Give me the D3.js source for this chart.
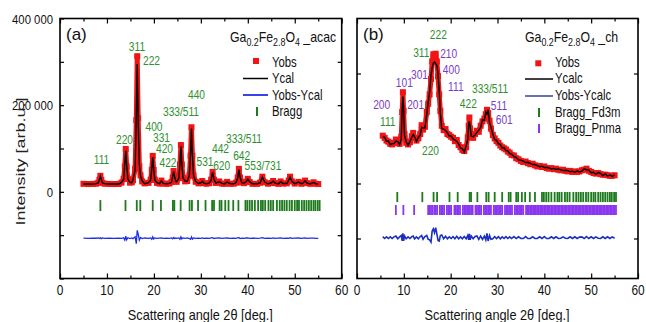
<!DOCTYPE html>
<html><head><meta charset="utf-8">
<script src="https://cdn.jsdelivr.net/npm/d3@7"></script>
<style>
body{margin:0;background:#fff}
svg{display:block}
text{font-family:"Liberation Sans",Arial,Helvetica,sans-serif}
</style>
</head><body>
<svg id="c" width="646" height="322"></svg>
<script>
// ---------------- DATA ----------------
// Panel (a): Ga0.2Fe2.8O4_acac
const angleA = [5.0,6.0,7.0,7.7,8.15,8.4,8.6,8.8,9.05,9.5,
  10.5,11.5,12.5,13.1,13.55,13.8,14.0,14.2,14.45,14.9,
  15.3,15.55,16.0,16.25,16.45,16.65,16.9,17.15,17.5,18.0,
  18.85,19.3,19.55,19.75,19.95,20.2,20.65,21.2,21.6,22.0,
  22.7,23.3,23.75,24.0,24.2,24.4,24.65,24.85,25.3,25.55,
  25.75,25.95,26.2,26.65,27.1,27.55,27.8,28.0,28.2,28.45,
  28.9,29.5,30.0,30.3,30.6,31.2,31.8,32.2,32.5,32.8,
  33.2,33.9,34.5,35.0,35.6,36.2,37.0,37.5,37.85,38.1,
  38.35,38.7,39.2,39.6,40.0,40.4,41.0,42.0,42.6,43.1,
  43.6,44.3,45.0,45.4,45.8,46.5,47.0,47.5,48.3,48.7,
  49.0,49.4,50.0,50.8,51.4,51.8,52.2,52.6,53.3,54.0,
  54.5,55.0];
const yobsA = [18500,18000,18300,18760,20850,27500,37000,27500,20850,18700,
  18200,18000,18300,21240,30150,58500,99000,58500,30150,21240,
  22000,26850,53400,165500,313000,170000,59400,38000,24000,19500,
  20600,27750,50500,83000,50500,27750,20600,19000,26000,19000,
  18500,19200,22500,33000,48000,34800,25200,23100,31500,63000,
  108000,63000,32800,24200,25000,37650,83500,149000,83500,37650,
  23240,19500,20500,25000,20000,18800,20000,28000,46000,28000,
  20500,24000,19000,18500,23000,18500,18800,21000,33000,53000,
  33000,21500,20000,23500,30000,22500,18500,18500,21000,35000,
  22000,18800,20500,25000,20000,18500,24000,19000,19500,26000,
  35000,24000,19000,23000,18500,21000,26000,20000,18500,22000,
  18500,18000];
const ycalA = [18200,18300,17900,18900,20300,28200,36000,28400,20300,19000,
  18000,18300,18000,21800,29000,63000,94500,62000,29000,22000,
  21200,28000,50000,178000,295000,160000,64000,36500,25000,19000,
  21200,27000,53000,80000,52000,27000,21000,18700,25200,19400,
  18300,19500,22000,34500,46500,35500,24800,23500,30800,65500,
  105000,64500,32000,24600,24500,38500,86000,146000,85500,37000,
  23800,19200,20900,24300,20400,18500,20500,27300,44800,28600,
  20200,23300,19400,18300,22500,18900,18500,21500,32000,51500,
  34000,21200,20400,23000,29200,23000,18300,18800,20600,33800,
  22600,18500,20900,24400,20300,18300,23400,19300,19200,26500,
  34000,24500,18800,22500,18800,20700,25400,20300,18300,21600,
  18700,18200];

// Panel (b): Ga0.2Fe2.8O4_ch
const angleB = [5.5,5.9,6.3,6.7,7.1,7.5,7.9,8.3,8.7,9.1,
  9.45,9.65,9.8,9.95,10.15,10.5,10.9,11.3,11.7,12.0,
  12.3,12.7,13.1,13.5,13.8,14.1,14.5,14.9,15.2,15.5,
  15.8,16.05,16.3,16.55,16.8,17.05,17.3,17.55,17.8,18.1,
  18.5,18.9,19.3,19.7,20.1,20.5,20.9,21.3,21.7,22.1,
  22.5,22.9,23.3,23.65,23.85,24.0,24.15,24.4,24.8,25.2,
  25.6,26.0,26.4,26.8,27.2,27.5,27.75,28.0,28.3,28.6,
  29.0,29.4,29.8,30.2,30.6,31.0,31.4,31.8,32.2,32.6,
  33.0,33.5,34.0,34.5,35.0,35.5,36.0,36.5,37.0,37.5,
  38.0,38.5,39.0,39.5,40.0,40.5,41.0,41.5,42.0,42.5,
  43.0,43.5,44.0,44.5,45.0,45.5,46.0,46.5,47.0,47.5,
  48.0,48.5,49.0,49.5,50.0,50.5,51.0,51.5,52.0,52.5,
  53.0,53.5,54.0,54.5,55.0];
const yobsB = [187000,183000,178000,176000,172000,171000,174000,180000,174000,172000,
  185000,230000,266000,232000,190000,174000,171000,175000,186000,192000,
  183000,178000,182000,190000,206000,198000,203000,230000,245000,262000,
  290000,322000,335000,330000,336000,322000,295000,262000,232000,205000,
  197000,199000,190000,188000,185000,183000,177000,179000,170000,166000,
  161000,159000,166000,184000,205000,220000,200000,189000,183000,190000,
  196000,194000,205000,213000,218000,226000,234000,228000,214000,200000,
  188000,182000,177000,174000,169000,166000,164000,162000,158000,156000,
  152000,151000,146000,144000,141000,139000,140000,137000,135000,136000,
  133000,131000,132000,130000,131000,128000,127000,128000,126000,127000,
  125000,124000,125000,123000,122000,123000,121000,122000,121000,122000,
  124000,125000,127000,123000,121000,119000,118000,119000,117000,116000,
  116000,115000,114000,114000,115000];
const ycalB = [185000,184500,176500,177500,170500,172500,172500,177000,176000,170500,
  181000,236000,258000,238000,187000,176000,169500,176500,184000,189000,
  185000,176500,184000,188000,202000,201000,201000,226000,248000,266000,
  298000,310000,319000,321000,318000,315000,300000,268000,228000,200000,
  199000,196500,192000,186500,186500,181000,179000,176500,172000,164500,
  163000,157000,168000,180000,209000,213000,204000,186000,185000,188000,
  193000,197000,202000,216000,215000,230000,226000,234000,210000,203000,
  190000,180000,178500,172000,171000,164500,165500,160000,159500,154500,
  153500,149000,147500,142500,142500,140500,138000,138500,136500,134500,
  134500,132500,130500,131500,129000,129500,128500,126500,127500,125500,
  126500,125000,123500,124000,123500,121500,122500,120500,122500,121000,
  122500,126500,125000,124500,119500,120500,116500,120000,118500,114500,
  117500,113500,115500,112500,116000];

// Bragg reflection positions (2theta, deg)
const braggFd3m = [8.6,13.95,16.35,17.1,19.75,21.5,24.05,24.35,25.7,27.6,28.1,29.4,31.0,32.4,32.8,
  34.0,34.4,35.2,35.9,36.9,38.0,39.5,39.9,40.4,40.9,41.5,42.2,42.8,43.2,43.7,44.4,44.9,45.4,
  46.2,46.8,47.3,47.8,48.3,48.9,49.4,50.0,50.5,50.9,51.5,52.0,52.5,53.0,53.5,54.0,54.4,54.9,55.3];
const braggPnma = [8.3,9.9,12.2,15.2,15.5,15.8,16.1,16.5,16.8,17.1,17.7,18.0,18.3,18.6,19.2,19.5,19.8,20.1,
  20.8,21.1,21.4,21.7,22.0,22.6,22.9,23.2,23.5,23.8,24.1,24.4,24.7,25.3,25.6,25.9,26.2,26.5,
  27.1,27.4,27.7,28.0,28.3,28.6,29.2,29.5,29.8,30.1,30.4,30.7,31.0,31.6,31.9,32.2,32.5,32.8,33.1,
  33.7,34.0,34.3,34.6,34.9,35.2,35.5,36.1,36.4,36.7,37.0,37.3,37.6,37.9,38.2,38.5,38.8,39.1,
  39.4,39.7,40.0,40.3,40.6,40.9,41.2,41.5,41.8,42.1,42.4,42.7,43.0,43.3,43.6,43.9,44.2,44.5,
  44.8,45.1,45.4,45.7,46.0,46.3,46.6,46.9,47.2,47.5,47.8,48.1,48.4,48.7,49.0,49.3,49.6,49.9,
  50.2,50.5,50.8,51.1,51.4,51.7,52.0,52.3,52.6,52.9,53.2,53.5,53.8,54.1,54.4,54.7,55.0,55.3];

// Peak annotations (hkl text, 2theta, intensity anchor)
const peakLabA = ["311","222","440","333/511","400","331","220","420","111","422","333/511","442","642","531","620","553/731"];
const peakAngA = [16.4,19.49,29.07,25.77,20.02,21.62,13.74,22.26,8.84,23.0,39.19,34.19,38.70,30.88,34.44,43.24];
const peakIntA = [326100,292600,213500,174900,141500,114500,110300,88800,64200,56800,112600,89500,73400,59500,50300,50300];

const peakLabB = ["222","311","210","301","400","101","111","333/511","200","201","422","511","111","601","220"];
const peakPhaseB = ["F","F","P","P","P","P","P","F","P","P","F","P","F","P","F"];
const peakAngB = [17.36,13.73,19.58,13.35,20.14,10.10,21.10,28.40,5.27,12.53,23.77,30.32,6.56,31.45,15.69];
const peakIntB = [362200,330600,328200,290000,299100,274900,268700,265100,234900,234900,236700,233600,204500,208200,151300];

// Axes
const xTickVals = [0,10,20,30,40,50,60];
const xMinorVals = [5,15,25,35,45,55];
const yTickValsA = [400000,200000,0];
const yTickLabA = ["400 000","200 000","0"];
const yAllTicksA = [300000,200000,100000,0,-100000];
const yTicksB = [0,100000,200000,300000];

const legendA = ["Yobs","Ycal","Yobs-Ycal","Bragg"];
const legendB = ["Yobs","Ycalc","Yobs-Ycalc","Bragg_Fd3m","Bragg_Pnma"];

// ---------------- DRAWING ----------------
const RED = "#f01414", GREEN_T = "#1d7a1d", GREEN_L = "#2e8f2e", PURPLE_L = "#7a3cc8", PURPLE_T = "#8a36f0";
const svg = d3.select("#c");

function txt(g, x, y, s, o = {}) {
  const size = o.size || 13, sx = o.sx || 1, anchor = o.anchor || "start";
  return g.append("text")
    .attr("transform", `translate(${x},${y}) scale(${sx},1)`)
    .attr("text-anchor", anchor)
    .attr("font-size", size)
    .attr("fill", o.fill || "#000")
    .text(s);
}

function chem(g, x, y, suffix, size, sx) {
  const t = g.append("text").attr("transform", `translate(${x},${y}) scale(${sx},1)`).attr("font-size", size).attr("fill", "#111");
  const parts = [["Ga",0],["0.2",1],["Fe",0],["2.8",1],["O",0],["4",1],[" " + suffix,0]];
  let shift = 0;
  parts.forEach(([s, sub]) => {
    const want = sub ? 4 : 0;
    t.append("tspan").attr("font-size", sub ? size * 0.72 : size).attr("dy", want - shift).text(s);
    shift = want;
  });
}

function frameAxes(g, x, y, cfg) {
  const [x0, x1] = x.range(), [yb, yt] = y.range();
  const styleTicks = sel => { sel.select(".domain").remove(); sel.selectAll("line").attr("stroke", "#000").attr("stroke-width", 1.2); sel.selectAll("text").remove(); };
  g.append("g").attr("transform", `translate(0,${yb})`).call(d3.axisBottom(x).tickValues(xTickVals).tickSize(-5)).call(styleTicks);
  g.append("g").attr("transform", `translate(0,${yb})`).call(d3.axisBottom(x).tickValues(xMinorVals).tickSize(-3)).call(styleTicks);
  g.append("g").attr("transform", `translate(0,${yt})`).call(d3.axisTop(x).tickValues(xTickVals).tickSize(-5)).call(styleTicks);
  g.append("g").attr("transform", `translate(0,${yt})`).call(d3.axisTop(x).tickValues(xMinorVals).tickSize(-3)).call(styleTicks);
  g.append("g").attr("transform", `translate(${x0},0)`).call(d3.axisLeft(y).tickValues(cfg.leftTicks).tickSize(-4)).call(styleTicks);
  g.append("g").attr("transform", `translate(${x1},0)`).call(d3.axisRight(y).tickValues(cfg.rightTicks).tickSize(-4)).call(styleTicks);
  g.append("rect").attr("x", x0).attr("y", yt).attr("width", x1 - x0).attr("height", yb - yt)
    .attr("fill", "none").attr("stroke", "#000").attr("stroke-width", 1.6);
  xTickVals.forEach(v => txt(g, x(v), 295, String(v), {size: 14, sx: 0.85, anchor: "middle", fill: "#111"}));
  txt(g, (x0 + x1) / 2 - 0.5, 319.5, "Scattering angle 2θ [deg.]", {size: 14, sx: 0.91, anchor: "middle", fill: "#111"});
}

function pattern(g, x, y, ang, obs, cal, diffOffset, blue, blueW) {
  const pts = ang.map((a, i) => ({a, o: obs[i], c: cal[i]}));
  const lineO = d3.line().x(d => x(d.a)).y(d => y(d.o));
  const lineC = d3.line().x(d => x(d.a)).y(d => y(d.c));
  const lineD = d3.line().x(d => x(d.a)).y(d => y(d.o - d.c + diffOffset));
  g.append("path").attr("d", lineO(pts)).attr("fill", "none").attr("stroke", RED).attr("stroke-width", 5).attr("stroke-linejoin", "round");
  g.selectAll(null).data(pts).join("rect")
    .attr("x", d => x(d.a) - 3).attr("y", d => y(d.o) - 3).attr("width", 6).attr("height", 6).attr("fill", RED);
  g.append("path").attr("d", lineC(pts)).attr("fill", "none").attr("stroke", "#000").attr("stroke-width", 1.4);
  g.append("path").attr("d", lineD(pts)).attr("fill", "none").attr("stroke", blue).attr("stroke-width", blueW);
}

function bragg(g, x, y, list, v0, v1, color) {
  g.selectAll(null).data(list).join("line")
    .attr("x1", d => x(d)).attr("x2", d => x(d))
    .attr("y1", y(v0)).attr("y2", y(v1))
    .attr("stroke", color).attr("stroke-width", 1.8);
}

// ----- Panel (a)
const xA = d3.scaleLinear().domain([0, 60]).range([60, 341.7]);
const yA = d3.scaleLinear().domain([-200000, 400000]).range([278.5, 18.5]);
const gA = svg.append("g");
bragg(gA, xA, yA, braggFd3m, -19000, -44300, GREEN_T);
pattern(gA, xA, yA, angleA, yobsA, ycalA, -107000, "#1f2fe6", 1.3);
frameAxes(gA, xA, yA, {leftTicks: [400000, ...yAllTicksA, -200000], rightTicks: yAllTicksA});
yTickValsA.forEach((v, i) => txt(gA, 53, yA(v) + 5, yTickLabA[i], {size: 13.5, sx: 0.84, anchor: "end", fill: "#111"}));
gA.append("text").attr("transform", "translate(25,161.5) rotate(-90) scale(1,0.72)")
  .attr("text-anchor", "middle").attr("font-size", 18).attr("fill", "#222").text("Intensity [arb.u.]");
peakLabA.forEach((s, i) => txt(gA, xA(peakAngA[i]), yA(peakIntA[i]), s, {size: 12, sx: 0.85, anchor: "middle", fill: GREEN_L}));
txt(gA, 66, 40, "(a)", {size: 17, sx: 1, fill: "#111"});
chem(gA, 230, 41.5, "_acac", 14, 0.88);
// legend (a)
gA.append("rect").attr("x", 253).attr("y", 58).attr("width", 6).attr("height", 6).attr("fill", RED);
gA.append("line").attr("x1", 243).attr("x2", 268).attr("y1", 78.5).attr("y2", 78.5).attr("stroke", "#000").attr("stroke-width", 1.5);
gA.append("line").attr("x1", 243).attr("x2", 268).attr("y1", 95).attr("y2", 95).attr("stroke", "#1f2fe6").attr("stroke-width", 1.8);
gA.append("line").attr("x1", 257).attr("x2", 257).attr("y1", 107).attr("y2", 116).attr("stroke", GREEN_T).attr("stroke-width", 2);
[66.5, 83.3, 99.5, 116.3].forEach((yy, i) => txt(gA, 272, yy, legendA[i], {size: 14, sx: 0.81, fill: "#111"}));

// ----- Panel (b)
const xB = d3.scaleLinear().domain([0, 60]).range([357, 638]);
const yB = d3.scaleLinear().domain([-72727, 400000]).range([278.5, 18.5]);
const gB = svg.append("g");
bragg(gB, xB, yB, braggFd3m, 84500, 66200, GREEN_T);
bragg(gB, xB, yB, braggPnma, 60900, 42700, PURPLE_T);
pattern(gB, xB, yB, angleB, yobsB, ycalB, 1500, "#1c2fc4", 1.6);
frameAxes(gB, xB, yB, {leftTicks: yTicksB, rightTicks: yTicksB});
peakLabB.forEach((s, i) => txt(gB, xB(peakAngB[i]), yB(peakIntB[i]), s,
  {size: 12, sx: 0.85, anchor: "middle", fill: peakPhaseB[i] === "F" ? GREEN_L : PURPLE_L}));
txt(gB, 363, 40, "(b)", {size: 17, sx: 1, fill: "#111"});
chem(gB, 525, 41.7, "_ch", 14, 0.88);
// legend (b)
gB.append("rect").attr("x", 535.3).attr("y", 60.3).attr("width", 6).attr("height", 6).attr("fill", RED);
gB.append("line").attr("x1", 525).attr("x2", 553).attr("y1", 79).attr("y2", 79).attr("stroke", "#000").attr("stroke-width", 1.5);
gB.append("line").attr("x1", 525).attr("x2", 553).attr("y1", 96).attr("y2", 96).attr("stroke", "#5563b0").attr("stroke-width", 1.8);
gB.append("line").attr("x1", 539).attr("x2", 539).attr("y1", 108).attr("y2", 117).attr("stroke", GREEN_T).attr("stroke-width", 2);
gB.append("line").attr("x1", 539).attr("x2", 539).attr("y1", 124).attr("y2", 133).attr("stroke", PURPLE_T).attr("stroke-width", 2);
[66.7, 83.3, 100, 117, 132.7].forEach((yy, i) => txt(gB, 555, yy, legendB[i], {size: 14, sx: 0.81, fill: "#111"}));
</script>
</body></html>
